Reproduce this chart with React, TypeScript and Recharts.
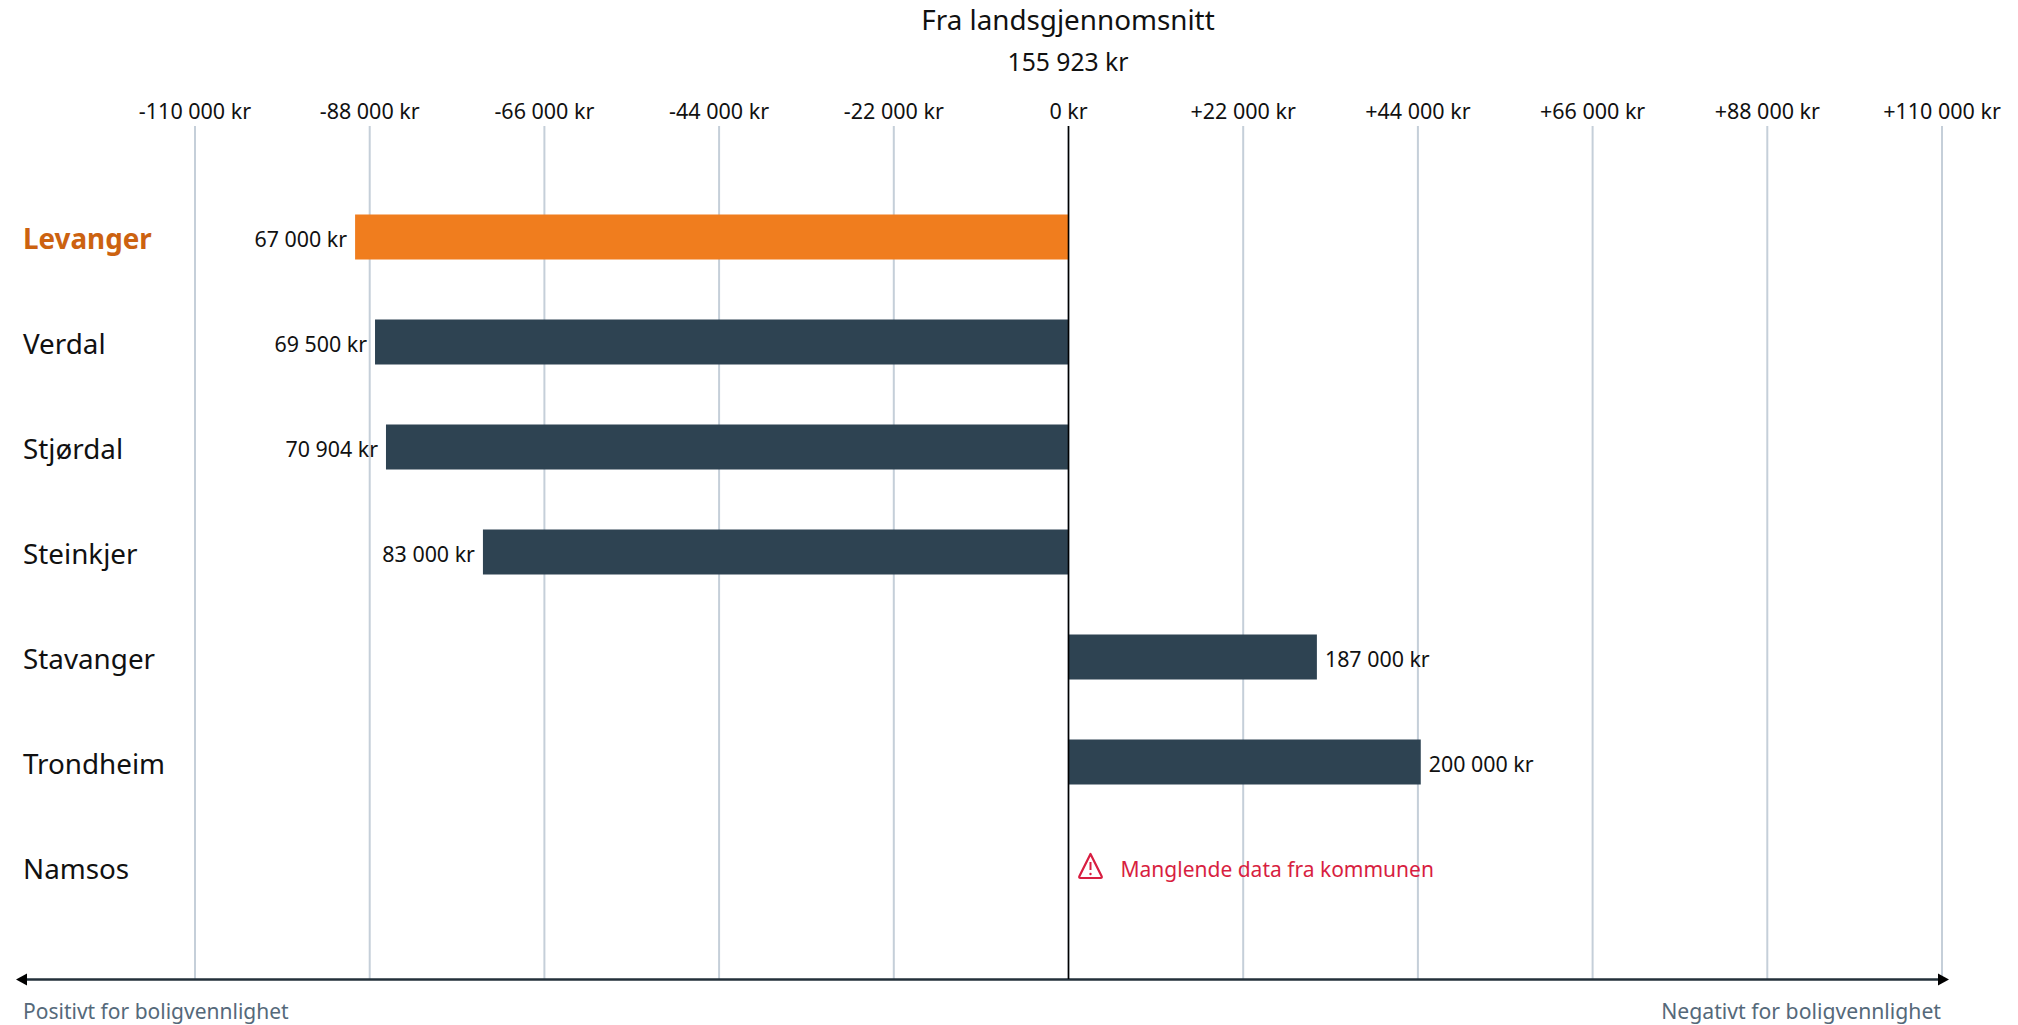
import { BarChart, Bar, Cell, XAxis, YAxis, CartesianGrid, ReferenceLine, ReferenceDot, LabelList } from 'recharts';

const FONT = '"Noto Sans", sans-serif';

const municipalities = ['Levanger', 'Verdal', 'Stjørdal', 'Steinkjer', 'Stavanger', 'Trondheim', 'Namsos'];
const deviations = [-89840, -87330, -85950, -73740, 31280, 44360, null];
const amountLabels = ['67 000 kr', '69 500 kr', '70 904 kr', '83 000 kr', '187 000 kr', '200 000 kr', ''];
const axisTicks = [-110000, -88000, -66000, -44000, -22000, 0, 22000, 44000, 66000, 88000, 110000];
const axisTickLabels = [
  '-110 000 kr', '-88 000 kr', '-66 000 kr', '-44 000 kr', '-22 000 kr', '0 kr',
  '+22 000 kr', '+44 000 kr', '+66 000 kr', '+88 000 kr', '+110 000 kr',
];

const highlighted = 'Levanger';
const missingDataText = 'Manglende data fra kommunen';

const chartData = municipalities.map((name, i) => ({ name, deviation: deviations[i], label: amountLabels[i] }));

function CategoryTick({ y, payload }: any) {
  const active = payload.value === highlighted;
  return (
    <text
      x={23}
      y={y + 12}
      fontFamily={FONT}
      fontSize={27.8}
      fontWeight={active ? 700 : 400}
      fill={active ? '#CC6210' : '#111111'}
    >
      {payload.value}
    </text>
  );
}

function AmountLabel({ x, y, width, height, index }: any) {
  const end = x + width;
  const negative = width < 0;
  const text = amountLabels[index];
  if (!text) return null;
  return (
    <text
      x={negative ? end - 8 : end + 8}
      y={y + height / 2 + 10}
      textAnchor={negative ? 'end' : 'start'}
      fontFamily={FONT}
      fontSize={21.4}
      fill="#111111"
    >
      {text}
    </text>
  );
}

function MissingData({ cx, cy }: any) {
  return (
    <g>
      <path
        d={`M ${cx + 22} ${cy - 13} L ${cx + 33} ${cy + 9} Q ${cx + 34} ${cy + 11} ${cx + 32} ${cy + 11} L ${cx + 12} ${cy + 11} Q ${cx + 10} ${cy + 11} ${cx + 11} ${cy + 9} Z`}
        fill="none"
        stroke="#D81E41"
        strokeWidth={2.2}
        strokeLinejoin="round"
      />
      <line x1={cx + 22} y1={cy - 5} x2={cx + 22} y2={cy + 3} stroke="#D81E41" strokeWidth={2} />
      <circle cx={cx + 22} cy={cy + 7} r={1.2} fill="#D81E41" />
      <text x={cx + 52} y={cy + 10} fontFamily={FONT} fontSize={21} fill="#D81E41">
        {missingDataText}
      </text>
    </g>
  );
}

export default function App() {
  return (
    <div style={{ position: 'absolute', left: 0, top: 0, width: 2018, height: 1025, background: '#fff' }}>
      <BarChart
        width={2018}
        height={1025}
        data={chartData}
        layout="vertical"
        margin={{ top: 0, right: 76, bottom: 46, left: 0 }}
      >
        <CartesianGrid horizontal={false} stroke="#C5CFD9" strokeWidth={2} />
        <XAxis
          type="number"
          orientation="top"
          height={126}
          domain={[-110000, 110000]}
          ticks={axisTicks}
          interval={0}
          axisLine={false}
          tickLine={false}
          tickMargin={1}
          tickFormatter={(_v: number, i: number) => axisTickLabels[i]}
          tick={{ fill: '#111111', fontSize: 21.5, fontFamily: FONT }}
        />
        <YAxis
          type="category"
          dataKey="name"
          width={195}
          interval={0}
          axisLine={false}
          tickLine={false}
          padding={{ top: 58.5, bottom: 59.5 }}
          tick={<CategoryTick />}
        />
        <Bar dataKey="deviation" barSize={45} isAnimationActive={false}>
          {chartData.map((d) => (
            <Cell key={d.name} fill={d.name === highlighted ? '#F07D1E' : '#2E4352'} />
          ))}
          <LabelList dataKey="label" content={<AmountLabel />} />
        </Bar>
        <ReferenceLine x={0} stroke="#000000" strokeWidth={1.6} />
        <ReferenceDot x={0} y="Namsos" r={0} shape={<MissingData />} />

        <text x={1068} y={30} textAnchor="middle" fontFamily={FONT} fontSize={27.8} fill="#111111">
          Fra landsgjennomsnitt
        </text>
        <text x={1068} y={71} textAnchor="middle" fontFamily={FONT} fontSize={24.7} fill="#111111">
          155 923 kr
        </text>

        <line x1={26} y1={979.5} x2={1938} y2={979.5} stroke="#23303A" strokeWidth={2.5} />
        <polygon points="16,979.5 27,973.5 27,985.5" fill="#000000" />
        <polygon points="1949,979.5 1938,973.5 1938,985.5" fill="#000000" />
        <text x={23} y={1019} fontFamily={FONT} fontSize={21} fill="#55697A">
          Positivt for boligvennlighet
        </text>
        <text x={1941} y={1019} textAnchor="end" fontFamily={FONT} fontSize={21.2} fill="#55697A">
          Negativt for boligvennlighet
        </text>
      </BarChart>
    </div>
  );
}
